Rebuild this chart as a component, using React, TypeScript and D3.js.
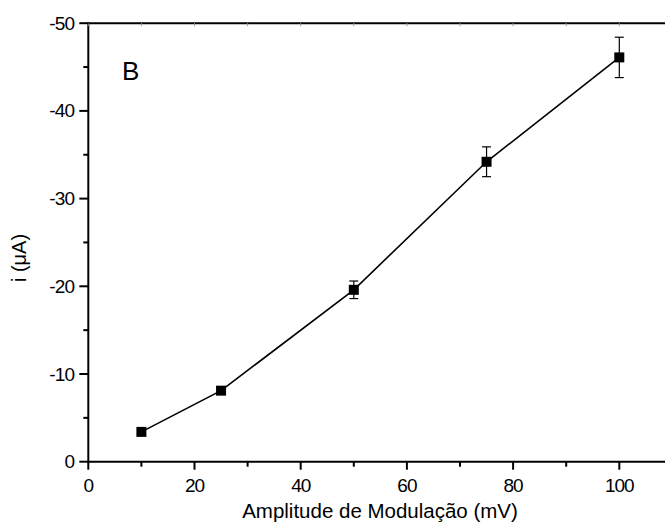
import React from "react";
import * as d3 from "d3";

// Modulation amplitude (mV) and measured current (µA) with standard deviation
const amplitudes = [10, 25, 50, 75, 100];
const currents = [-3.4, -8.1, -19.6, -34.2, -46.1];
const deviations = [0.3, 0.4, 1.0, 1.7, 2.3];

const xMajorTicks = [0, 20, 40, 60, 80, 100];
const xMinorTicks = [10, 30, 50, 70, 90];
const yMajorTicks = [0, -10, -20, -30, -40, -50];
const yMinorTicks = [-5, -15, -25, -35, -45];

const W = 665;
const H = 527;
const left = 88.3;
const top = 23.2;
const bottom = 461.7;
const pxPerX = 5.31;

const font = "'Liberation Sans', Arial, sans-serif";

export default function App() {
  const x = d3.scaleLinear().domain([0, 110]).range([left, left + 110 * pxPerX]);
  const y = d3.scaleLinear().domain([0, -50]).range([bottom, top]);
  const line = d3
    .line<number>()
    .x((_, i) => x(amplitudes[i]))
    .y((d) => y(d));
  const right = x(110);
  const marker = 10;
  const cap = 4.5;

  return (
    <svg
      width={W}
      height={H}
      style={{ position: "absolute", left: 0, top: 0, background: "#fff" }}
    >
      {/* plot frame */}
      <line x1={left} x2={right} y1={top} y2={top} stroke="#000" strokeWidth={2} />
      <line x1={left} x2={right} y1={bottom} y2={bottom} stroke="#000" strokeWidth={2} />
      <line x1={left} x2={left} y1={top - 1} y2={bottom + 1} stroke="#000" strokeWidth={2} />

      {/* bottom axis ticks */}
      {xMajorTicks.map((t) => (
        <g key={"xm" + t}>
          <line x1={x(t)} x2={x(t)} y1={bottom} y2={bottom + 8} stroke="#000" strokeWidth={2} />
          <text
            x={x(t)}
            y={bottom + 30}
            textAnchor="middle"
            fontFamily={font}
            fontSize={19}
            letterSpacing={-1}
          >
            {t}
          </text>
        </g>
      ))}
      {xMinorTicks.map((t) => (
        <line key={"xn" + t} x1={x(t)} x2={x(t)} y1={bottom} y2={bottom + 5} stroke="#000" strokeWidth={2} />
      ))}
      {/* top axis inner ticks */}
      {[...xMajorTicks, ...xMinorTicks].map((t) => (
        <line key={"xt" + t} x1={x(t)} x2={x(t)} y1={top} y2={top + 3} stroke="#999" strokeWidth={1} />
      ))}

      {/* left axis ticks */}
      {yMajorTicks.map((t) => (
        <g key={"ym" + t}>
          <line x1={left - 9} x2={left} y1={y(t)} y2={y(t)} stroke="#000" strokeWidth={2} />
          <text
            x={left - 14}
            y={y(t) + 6.5}
            textAnchor="end"
            fontFamily={font}
            fontSize={19}
            letterSpacing={-0.8}
          >
            {t}
          </text>
        </g>
      ))}
      {yMinorTicks.map((t) => (
        <line key={"yn" + t} x1={left - 5} x2={left} y1={y(t)} y2={y(t)} stroke="#000" strokeWidth={2} />
      ))}

      {/* data line */}
      <path d={line(currents) ?? ""} fill="none" stroke="#000" strokeWidth={1.6} />

      {/* error bars */}
      {amplitudes.map((a, i) => {
        const cx = x(a);
        const y1 = y(currents[i] - deviations[i]);
        const y2 = y(currents[i] + deviations[i]);
        return (
          <g key={"e" + a} stroke="#000" strokeWidth={1.2}>
            <line x1={cx} x2={cx} y1={y1} y2={y2} />
            <line x1={cx - cap} x2={cx + cap} y1={y1} y2={y1} />
            <line x1={cx - cap} x2={cx + cap} y1={y2} y2={y2} />
          </g>
        );
      })}

      {/* markers */}
      {amplitudes.map((a, i) => (
        <rect
          key={"m" + a}
          x={x(a) - marker / 2}
          y={y(currents[i]) - marker / 2}
          width={marker}
          height={marker}
          fill="#000"
        />
      ))}

      {/* panel letter */}
      <text x={122} y={80} fontFamily={font} fontSize={26}>
        B
      </text>

      {/* axis titles */}
      <text x={380} y={518} textAnchor="middle" fontFamily={font} fontSize={20.5}>
        Amplitude de Modulação (mV)
      </text>
      <text
        transform={`translate(26, 258) rotate(-90)`}
        textAnchor="middle"
        fontFamily={font}
        fontSize={20}
      >
        i (μA)
      </text>
    </svg>
  );
}
